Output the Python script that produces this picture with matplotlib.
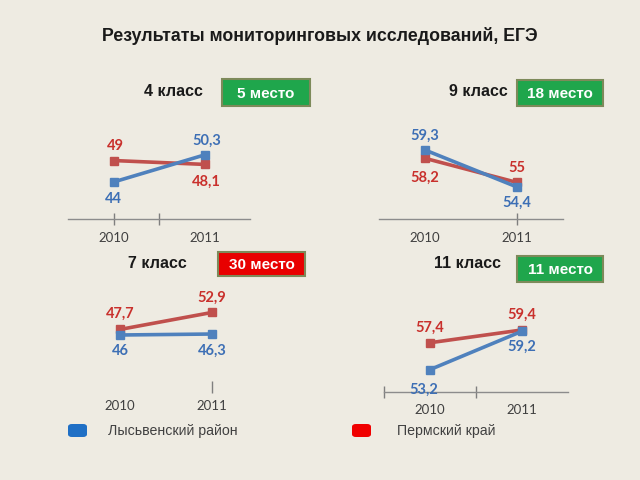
import matplotlib
matplotlib.use("Agg")
import matplotlib.pyplot as plt
from matplotlib.patches import Rectangle, FancyBboxPatch

W, H = 640, 480

years = ["2010", "2011"]
grades = ["4 класс", "9 класс", "7 класс", "11 класс"]
places = ["5 место", "18 место", "30 место", "11 место"]
lysva = [[44, 50.3], [59.3, 54.4], [46, 46.3], [53.2, 59.2]]
perm = [[49, 48.1], [58.2, 55], [47.7, 52.9], [57.4, 59.4]]
series_names = ["Лысьвенский район", "Пермский край"]

BG = "#EEEBE2"
BLUE = "#4F81BD"
RED = "#C0504D"
BLUE_TXT = "#3D6FB5"
RED_TXT = "#C9302C"
GREEN_BOX = "#1FA64C"
RED_BOX = "#E80000"

# layout in pixels: x-left, x-right, axis y, top y, ylim, minor tick positions, show axis line
panels = [
    dict(x0=68, x1=250, yb=219, yt=130, ylim=(35.4, 56.1), ticks=[0, 0.5], spine=True,
         grade=(173, 92), box=(222, 79, 310, 106), box_color=GREEN_BOX,
         off_b=[(0, -17), (2, 14)], off_r=[(2, 15), (2, -17)]),
    dict(x0=379, x1=563, yb=219, yt=130, ylim=(50.16, 61.95), ticks=[1], spine=True,
         grade=(478, 92), box=(517, 80, 603, 106), box_color=GREEN_BOX,
         off_b=[(0, 14), (0, -16)], off_r=[(0, -19), (0, 14)]),
    dict(x0=74, x1=258, yb=387, yt=290, ylim=(30.1, 59.76), ticks=[1], spine=False,
         grade=(157, 263), box=(218, 252, 305, 276), box_color=RED_BOX,
         off_b=[(0, -16), (0, -17)], off_r=[(0, 16), (0, 15)]),
    dict(x0=384, x1=568, yb=392, yt=300, ylim=(49.7, 64.08), ticks=[-0.5, 0.5], spine=True,
         grade=(467, 264), box=(517, 256, 603, 282), box_color=GREEN_BOX,
         off_b=[(-6, -20), (0, -16)], off_r=[(0, 15), (0, 15)]),
]


def fx(px):
    return px / W


def fy(py):
    return 1 - py / H


fig = plt.figure(figsize=(6.4, 4.8), dpi=100)
fig.patch.set_facecolor(BG)

fig.text(fx(320), fy(36), "Результаты мониторинговых исследований, ЕГЭ",
         ha="center", va="center", fontsize=12.8, fontweight="bold",
         family="Liberation Sans", color="#1a1a1a")

for i, p in enumerate(panels):
    ax = fig.add_axes([fx(p["x0"]), fy(p["yb"]), (p["x1"] - p["x0"]) / W, (p["yb"] - p["yt"]) / H])
    ax.set_facecolor("none")
    ax.set_xlim(-0.5, 1.5)
    ax.set_ylim(*p["ylim"])
    for s in ["top", "left", "right"]:
        ax.spines[s].set_visible(False)
    ax.spines["bottom"].set_color("#8c8c8c")
    ax.spines["bottom"].set_linewidth(1.0)
    ax.spines["bottom"].set_visible(p["spine"])
    ax.set_yticks([])
    ax.xaxis.remove_overlapping_locs = False
    ax.set_xticks([0, 1])
    ax.set_xticklabels(years, family="Lato", fontsize=9.5, color="#404040")
    ax.tick_params(axis="x", which="major", length=0, pad=9)
    ax.set_xticks(p["ticks"], minor=True)
    ax.tick_params(axis="x", which="minor", direction="inout", length=8, width=1, color="#7f7f7f")

    xs = [0, 1]
    ax.plot(xs, perm[i], color=RED, lw=2.6, marker="s", ms=6, solid_capstyle="butt", zorder=3)
    ax.plot(xs, lysva[i], color=BLUE, lw=2.6, marker="s", ms=6, solid_capstyle="butt", zorder=4)

    for j in range(2):
        ax.annotate(f"{lysva[i][j]:g}".replace(".", ","), (xs[j], lysva[i][j]),
                    xytext=p["off_b"][j], textcoords="offset pixels", ha="center", va="center",
                    fontsize=10.5, fontweight="bold", family="Lato", color=BLUE_TXT,
                    annotation_clip=False, zorder=5)
        ax.annotate(f"{perm[i][j]:g}".replace(".", ","), (xs[j], perm[i][j]),
                    xytext=p["off_r"][j], textcoords="offset pixels", ha="center", va="center",
                    fontsize=10.5, fontweight="bold", family="Lato", color=RED_TXT,
                    annotation_clip=False, zorder=5)

    gx, gy = p["grade"]
    fig.text(fx(gx), fy(gy), grades[i], ha="center", va="center", fontsize=11.5,
             fontweight="bold", family="Liberation Sans", color="#1a1a1a")
    bx0, by0, bx1, by1 = p["box"]
    fig.patches.append(Rectangle((fx(bx0), fy(by1)), (bx1 - bx0) / W, (by1 - by0) / H,
                                 transform=fig.transFigure, facecolor=p["box_color"],
                                 edgecolor="#7d8a5a", linewidth=1.5))
    fig.text(fx((bx0 + bx1) / 2), fy((by0 + by1) / 2 + 1), places[i], ha="center", va="center",
             fontsize=11, fontweight="bold", family="Liberation Sans", color="white")

# legend
legend_items = [(68, 108, "#1F6FC5", series_names[0]), (352, 397, "#F00000", series_names[1])]
for sx, tx, col, name in legend_items:
    fig.patches.append(FancyBboxPatch((fx(sx), fy(437)), 19 / W, 13 / H,
                                      boxstyle="round,pad=0,rounding_size=0.006",
                                      transform=fig.transFigure, facecolor=col, edgecolor="none"))
    fig.text(fx(tx), fy(431), name, ha="left", va="center", fontsize=10.2,
             family="Liberation Sans", color="#404040")

fig.savefig("out.png", dpi=100, facecolor=BG)
